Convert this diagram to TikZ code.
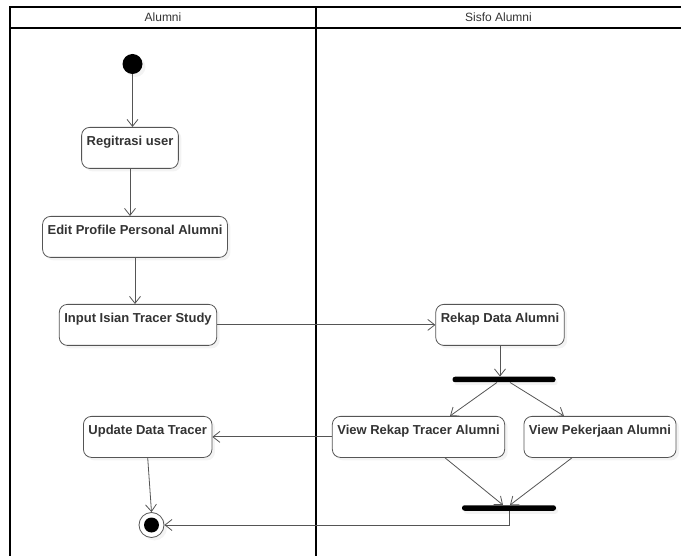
\documentclass[tikz,border=0pt]{standalone}
\usepackage{fontspec}
\setmainfont{Liberation Sans}
\usetikzlibrary{arrows.meta,shadows,calc}
\definecolor{linegray}{HTML}{555555}
\definecolor{textgray}{HTML}{333333}

\begin{document}
\begin{tikzpicture}[x=1pt,y=-1pt,
  lane/.style={line width=1.8pt,black},
  lanetitle/.style={font=\fontsize{12}{14}\selectfont,text=textgray},
  activity/.style={draw=linegray,line width=0.8pt,rounded corners=8pt,fill=white,anchor=north,
    font=\bfseries\fontsize{13}{15}\selectfont,text=textgray,
    inner xsep=5pt,inner ysep=3.5pt,text height=14.5pt,text depth=19.5pt,
    drop shadow={shadow xshift=3pt,shadow yshift=-3pt,fill=black!9}},
  bar/.style={fill=black,rounded corners=2.5pt,minimum height=5.5pt,inner sep=0pt,
    drop shadow={shadow xshift=2pt,shadow yshift=-3pt,fill=black!9}},
  initial/.style={circle,fill=black,minimum size=20pt,inner sep=0pt,
    drop shadow={shadow xshift=3pt,shadow yshift=-3pt,fill=black!9}},
  final/.style={circle,draw=linegray,line width=0.8pt,fill=white,minimum size=25pt,inner sep=0pt,
    path picture={\fill[black] (path picture bounding box.center) circle (7.5pt);},
    drop shadow={shadow xshift=3pt,shadow yshift=-3pt,fill=black!9}},
  flow/.style={-{Straight Barb[length=7pt,width=11pt]},linegray,line width=0.8pt}]

  \useasboundingbox (0,0) rectangle (681,556);

  % swimlanes
  \draw[lane] (10,560) -- (10,7) -- (690,7);
  \draw[lane] (10,28) -- (690,28);
  \draw[lane] (316,7) -- (316,560);
  \node[lanetitle] (alumni) at (163,17.5) {Alumni};
  \node[lanetitle] (sisfo) at (498.5,17.5) {Sisfo Alumni};

  % actions
  \node[initial] (start) at (132.5,64) {};
  \node[activity] (reg) at (130,127) {Regitrasi user};
  \node[activity] (edit) at (135,216) {Edit Profile Personal Alumni};
  \node[activity] (input) at (138,304) {Input Isian Tracer Study};
  \node[activity] (rekap) at (500,304) {Rekap Data Alumni};
  \node[bar,minimum width=103pt] (fork) at (504,379.5) {};
  \node[activity] (viewrekap) at (418.5,416) {View Rekap Tracer Alumni};
  \node[activity] (viewkerja) at (600,416) {View Pekerjaan Alumni};
  \node[activity] (update) at (147.7,416) {Update Data Tracer};
  \node[bar,minimum width=94pt] (join) at (509,508) {};
  \node[final] (end) at (151.5,525) {};

  % flows
  \draw[flow] (start) -- (start |- reg.north);
  \draw[flow] (reg.south) -- (reg.south |- edit.north);
  \draw[flow] (edit.south) -- (edit.south |- input.north);
  \draw[flow] (input.east) -- (rekap.west);
  \draw[flow] (rekap.south) -- (rekap.south |- fork.north);
  \draw[flow] ($(fork.south)+(-7,0)$) -- ($(viewrekap.north)+(31.5,0)$);
  \draw[flow] ($(fork.south)+(6,0)$) -- ($(viewkerja.north)+(-36,0)$);
  \draw[flow] (viewrekap.west) -- (update.east);
  \draw[flow] ($(viewrekap.south)+(26.5,0)$) -- ($(join.north)+(-6,0)$);
  \draw[flow] ($(viewkerja.south)+(-28,0)$) -- ($(join.north)+(1,0)$);
  \draw[flow] (join.south) |- (end.east);
  \draw[flow] (update.south) -- (end.north);
\end{tikzpicture}
\end{document}
